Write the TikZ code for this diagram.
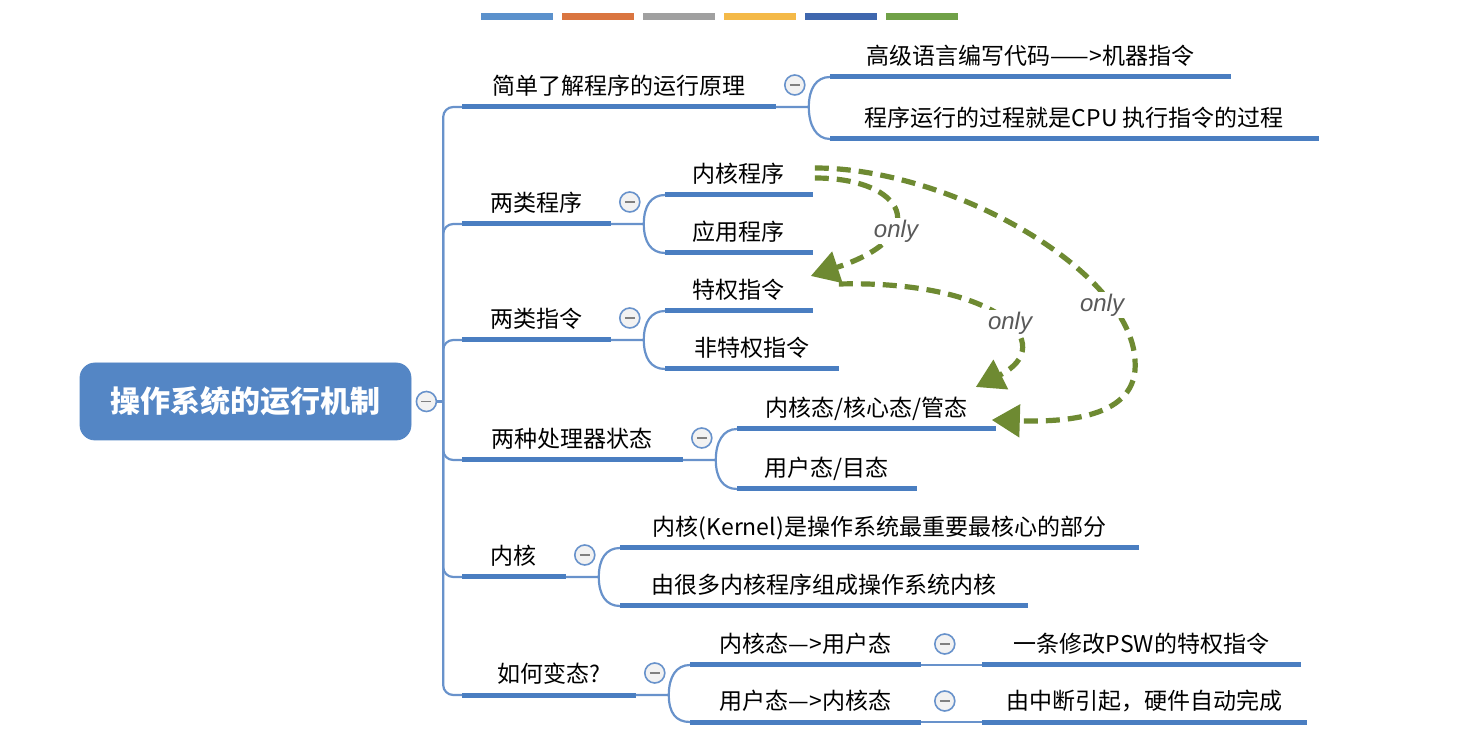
\documentclass[tikz,border=0pt]{standalone}
\usepackage{fontspec}
\setmainfont{Noto Sans CJK SC}
\newfontfamily\latinfont{Liberation Sans}
\usetikzlibrary{arrows.meta,positioning,calc}
\definecolor{mapblue}{RGB}{74,126,193}
\definecolor{linkblue}{RGB}{104,146,203}
\definecolor{rootblue}{RGB}{84,134,197}
\definecolor{onlygreen}{RGB}{110,138,50}
\definecolor{barA}{RGB}{91,145,204}
\definecolor{barB}{RGB}{218,117,64}
\definecolor{barC}{RGB}{160,160,160}
\definecolor{barD}{RGB}{244,185,72}
\definecolor{barE}{RGB}{63,103,174}
\definecolor{barF}{RGB}{112,161,72}

\begin{document}
\begin{tikzpicture}[
    x=0.5pt, y=-0.5pt,
    font=\fontsize{11.5}{14}\selectfont,
    root/.style={draw=rootblue, fill=rootblue, rounded corners=7.5pt, minimum width=165.5pt, minimum height=38.5pt, text=white, font=\fontsize{15}{18}\selectfont\bfseries},
    topic/.style={anchor=south west, inner xsep=0pt, inner ysep=0pt, minimum height=19pt, text height=9pt, text depth=2.5pt},
    uline/.style={mapblue, line width=2.5pt},
    link/.style={linkblue, line width=1.1pt},
    collapse/.style={circle, draw=linkblue, fill=gray!10, line width=0.8pt, minimum size=10pt, inner sep=0pt,
        path picture={\draw[gray, line width=0.6pt] ([xshift=-2.5pt]path picture bounding box.center) -- ([xshift=2.5pt]path picture bounding box.center);}},
    onlyarrow/.style={onlygreen, line width=2.6pt, dash pattern=on 7pt off 4pt, -{Triangle[length=14pt,width=16pt]}},
    onlylabel/.style={fill=white, inner sep=1pt, text=black!65, font=\latinfont\itshape\fontsize{12}{14}\selectfont}
]
\useasboundingbox[fill=white] (0,0) rectangle (1466,747);

% ===================== PALETTE =====================
\foreach \c [count=\i from 0] in {barA,barB,barC,barD,barE,barF}
    \fill[\c] ({481+\i*81},13) rectangle ++(72,7.5);

% ===================== ROOT =====================
\node[root] (root) at (245.5,401.5) {操作系统的运行机制};
\node[collapse] (rootc) at ($(root.east)+(15,0)$) {};
\coordinate (trunk) at ($(rootc.east)+(6,0)$);

% ===================== FIRST LEVEL =====================
\node[topic, minimum width=156.5pt] (t1) at (462,107) {简单了解程序的运行原理};
\node[topic, minimum width=74pt] (t2) at (462,224) {两类程序};
\node[topic, minimum width=74pt] (t3) at (462,340) {两类指令};
\node[topic, minimum width=110pt] (t4) at (462,460) {两种处理器状态};
\node[topic, minimum width=51.5pt] (t5) at (462,577) {内核};
\node[topic, minimum width=86.5pt] (t6) at (462,695) {如何变态?};

% ===================== SECOND LEVEL =====================
\node[topic, minimum width=200pt] (t1a) at (830,77) {高级语言编写代码——>机器指令};
\node[topic, minimum width=244pt] (t1b) at (830,139) {程序运行的过程就是CPU 执行指令的过程};
\node[topic, minimum width=73.5pt] (t2a) at (665,195) {内核程序};
\node[topic, minimum width=73.5pt] (t2b) at (665,253) {应用程序};
\node[topic, minimum width=73.5pt] (t3a) at (665,311) {特权指令};
\node[topic, minimum width=86.5pt] (t3b) at (665,369) {非特权指令};
\node[topic, minimum width=129pt] (t4a) at (737,429) {内核态/核心态/管态};
\node[topic, minimum width=89.5pt] (t4b) at (737,489) {用户态/目态};
\node[topic, minimum width=259pt] (t5a) at (620,548) {内核(Kernel)是操作系统最重要最核心的部分};
\node[topic, minimum width=203.5pt] (t5b) at (620,606) {由很多内核程序组成操作系统内核};
\node[topic, minimum width=115pt] (t6a) at (690,665) {内核态—>用户态};
\node[topic, minimum width=115pt] (t6b) at (690,722) {用户态—>内核态};

% ===================== THIRD LEVEL =====================
\node[topic, minimum width=159pt] (t6a1) at (982,665) {一条修改PSW的特权指令};
\node[topic, minimum width=162pt] (t6b1) at (982,722) {由中断引起，硬件自动完成};

% ===================== COLLAPSE BUTTONS =====================
\foreach \t in {t1,t2,t3,t4,t5,t6}
    \node[collapse] (\t c) at ([shift={(19,-22)}]\t.south east) {};
\foreach \t in {t6a,t6b}
    \node[collapse] (\t c) at ([shift={(24,-21)}]\t.south east) {};

% ===================== UNDERLINES =====================
\foreach \t in {t1,t2,t3,t4,t5,t6,t1a,t1b,t2a,t2b,t3a,t3b,t4a,t4b,t5a,t5b,t6a,t6b,t6a1,t6b1}
    \draw[uline] (\t.south west) -- (\t.south east);

% ===================== BRANCHES =====================
\draw[link] (rootc.east) -- (trunk);
\foreach \t in {t1,t2,t3,t4,t5,t6}
    \draw[link, rounded corners=5pt] (trunk) |- (\t.south west);

\foreach \p in {t1,t2,t3,t4,t5,t6} {
    \draw[link] (\p.south east) -- ++(33,0) coordinate (\p f)
        .. controls +(0,-18) and +(-14,0) .. (\p a.south west);
    \draw[link] (\p f) .. controls +(0,18) and +(-14,0) .. (\p b.south west);
}
\draw[link] (t6a.south east) -- (t6a1.south west);
\draw[link] (t6b.south east) -- (t6b1.south west);

% ===================== ONLY ARROWS =====================
\coordinate (a1s) at ([shift={(2,-17)}]t2a.south east);
\coordinate (a2s) at ([shift={(2,-27)}]t2a.south east);
\coordinate (a1e) at ([shift={(-2,-35)}]t3a.south east);
\coordinate (a3s) at ([shift={(26,-27)}]t3a.south east);
\coordinate (a3e) at ([shift={(-20,-42)}]t4a.south east);
\coordinate (a2e) at ([shift={(-4,-9)}]t4a.south east);

\draw[onlyarrow] (a1s) .. controls (905,178) and (935,235) .. (a1e);
\draw[onlyarrow] (a2s) .. controls (950,168) and (1130,270) .. (1135,360)
    .. controls (1140,420) and (1060,422) .. (a2e);
\draw[onlyarrow] (a3s) .. controls (1000,280) and (1060,345) .. (a3e);

\node[onlylabel] (only1) at (896,231) {only};
\node[onlylabel] (only2) at (1102,305) {only};
\node[onlylabel] (only3) at (1010,323) {only};

\end{tikzpicture}
\end{document}
